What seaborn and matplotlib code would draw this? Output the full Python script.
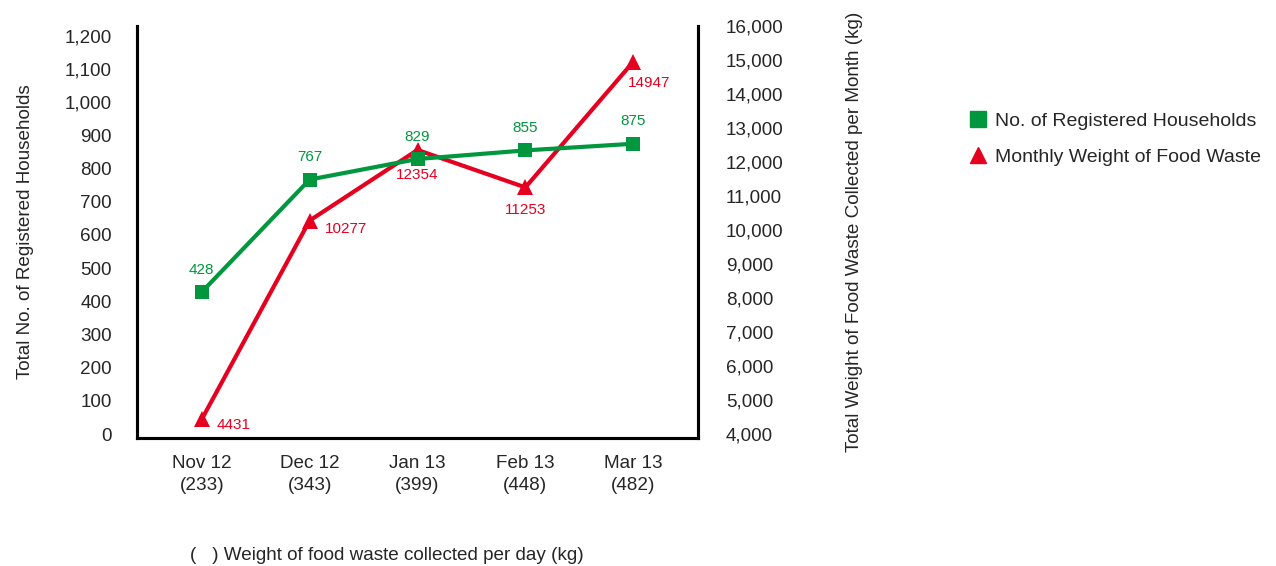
import matplotlib
matplotlib.use("Agg")
import matplotlib.pyplot as plt
import seaborn as sns
import pandas as pd
from matplotlib.lines import Line2D

# du lieu doc tu hinh
months = ["Nov 12", "Dec 12", "Jan 13", "Feb 13", "Mar 13"]
daily_kg = [233, 343, 399, 448, 482]
households = [428, 767, 829, 855, 875]
monthly_kg = [4431, 10277, 12354, 11253, 14947]

green = "#00973f"
red = "#e60020"

sns.set_theme(style="white")
plt.rcParams["font.family"] = ["Liberation Sans", "DejaVu Sans"]

df = pd.DataFrame({"pos": range(len(months)), "hh": households, "kg": monthly_kg})

fig = plt.figure(figsize=(12.76, 5.66), dpi=100)
ax = fig.add_axes([137 / 1276, 128 / 566, (698 - 137) / 1276, (438 - 26) / 566])
ax2 = ax.twinx()
# duong xanh nam tren duong do
ax.set_zorder(ax2.get_zorder() + 1)
ax.patch.set_visible(False)

sns.lineplot(data=df, x="pos", y="hh", ax=ax, color=green, linewidth=3,
             marker="s", markersize=10, markeredgewidth=0, zorder=3)
sns.lineplot(data=df, x="pos", y="kg", ax=ax2, color=red, linewidth=3,
             marker="^", markersize=12, markeredgewidth=0, zorder=3)

ax.set_xlim(-0.6, 4.6)
ax.set_ylim(-12, 1230)
ax2.set_ylim(3882, 16000)
ax.set_yticks(range(0, 1201, 100))
ax.set_yticklabels([f"{v:,}" for v in range(0, 1201, 100)])
ax2.set_yticks(range(4000, 16001, 1000))
ax2.set_yticklabels([f"{v:,}" for v in range(4000, 16001, 1000)])
ax.set_xticks(range(len(months)))
ax.set_xticklabels([f"{m}\n({d})" for m, d in zip(months, daily_kg)], linespacing=1.4)

for a in (ax, ax2):
    a.spines["top"].set_visible(False)
    for s in ("left", "right", "bottom"):
        a.spines[s].set_color("black")
        a.spines[s].set_linewidth(2.2)
    a.grid(False)
ax.tick_params(axis="y", length=0, pad=18, labelsize=13.6)
ax.tick_params(axis="x", length=0, pad=12, labelsize=13.6)
ax2.tick_params(axis="y", length=0, pad=20, labelsize=13.6)
ax.set_xlabel("")
ax.set_ylabel("Total No. of Registered Households", fontsize=13.6, labelpad=22)
ax2.set_ylabel("Total Weight of Food Waste Collected per Month (kg)", fontsize=13.6, labelpad=45)

# nhan du lieu
for i, v in enumerate(households):
    ax.annotate(str(v), (i, v), xytext=(0, 11), textcoords="offset points",
                ha="center", va="bottom", color=green, fontsize=11)
red_off = [(11, -4, "left", "center"), (11, -6, "left", "center"), (0, -13, "center", "top"),
           (0, -11, "center", "top"), (-4, -10, "left", "top")]
for i, v in enumerate(monthly_kg):
    dx, dy, ha, va = red_off[i]
    ax2.annotate(str(v), (i, v), xytext=(dx, dy), textcoords="offset points",
                 ha=ha, va=va, color=red, fontsize=11)

handles = [Line2D([], [], color=green, marker="s", linestyle="", markersize=12),
           Line2D([], [], color=red, marker="^", linestyle="", markersize=12)]
fig.legend(handles, ["No. of Registered Households", "Monthly Weight of Food Waste"],
           loc="center left", bbox_to_anchor=(949 / 1276, 1 - 139 / 566), frameon=False,
           fontsize=14, handletextpad=0.25, labelspacing=0.95, handlelength=1.2)

fig.text(190 / 1276, 1 - 555 / 566, "(   ) Weight of food waste collected per day (kg)",
         fontsize=13.6, ha="left", va="center")

fig.savefig("out.png", dpi=100)
